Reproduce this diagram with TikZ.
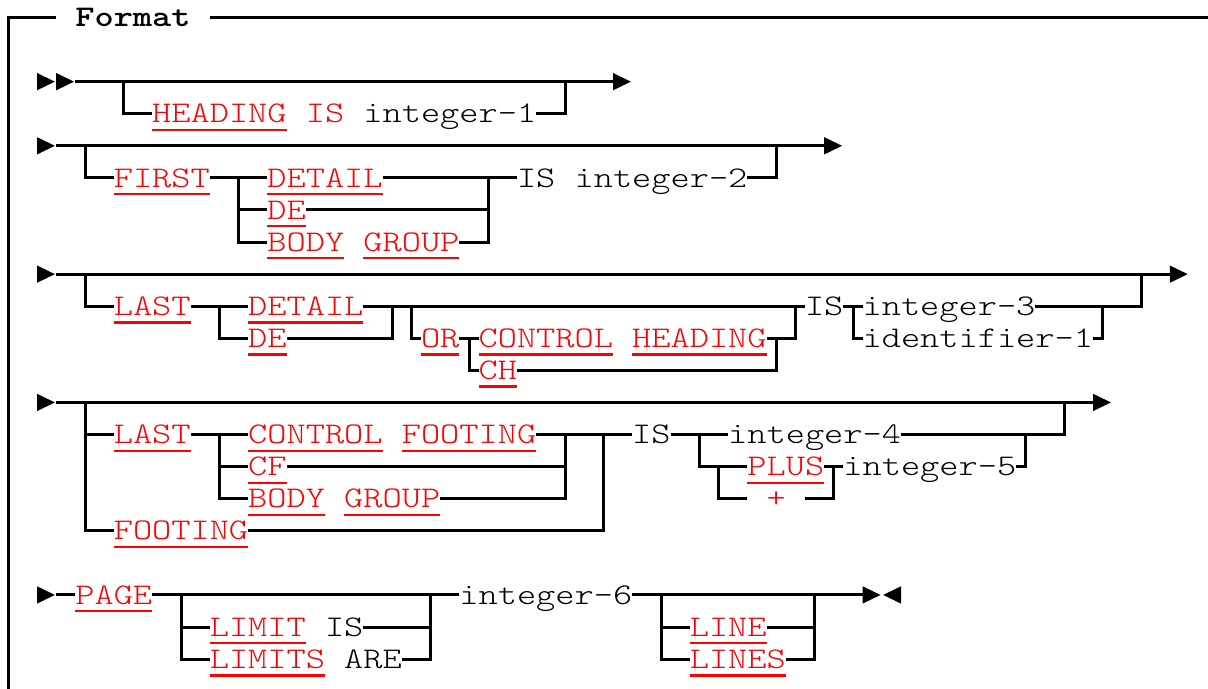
\documentclass[tikz,border=0pt]{standalone}
\usepackage{fontspec}
\newfontfamily\mono{lmmonolt10-regular.otf}[FakeStretch=1.219, BoldFont=lmmonolt10-bold.otf]
\newcommand\ra[2]{\fill (#1,#2) ++(0,-0.27) -- ++(0.93,0.27) -- ++(-0.93,0.27) -- cycle;}
\newcommand\la[2]{\fill ({#1+1},#2) ++(0,-0.27) -- ++(-0.93,0.27) -- ++(0.93,0.27) -- cycle;}
\newcommand\KW[4]{\node[kw] (#1) at (#2,#3) {#4};
  \draw[ul] ([yshift=-3.5pt]#1.base west) -- ([yshift=-3.5pt]#1.base east);}
\begin{document}
\begin{tikzpicture}[x=9.6pt,y=-16.04pt,
  every path/.style={line width=1.5pt, line join=miter},
  tx/.style={anchor=base west, inner sep=0pt, outer sep=0pt, yshift=-4.6pt,
    font={\mono\fontsize{15pt}{15pt}\selectfont}},
  kw/.style={tx, text=red},
  ul/.style={draw=red, line width=1.2pt},
  hdr/.style={tx, font={\mono\bfseries\fontsize{15pt}{15pt}\selectfont}}]
\path[use as bounding box] (0.7pt,8.75pt) rectangle (604.7pt,-335.75pt);
% frame
\draw (0.5,21) -- (0.5,0) -- (3,0);
\node[hdr] (fmt) at (4,0) {Format};
\draw (11,0) -- (63.2,0);
% row 2
\ra{2}{2} \ra{3}{2}
\draw (4,2) -- (32,2); \ra{32}{2}
\draw (6.5,2) |- (8,3);
\KW{hd}{8}{3}{HEADING}
\node[kw] (his) at (16,3) {IS};
\node[tx] (i1) at (19,3) {integer-1};
\draw (28,3) -| (29.5,2);
% row 4
\ra{2}{4}
\draw (3,4) -- (43,4); \ra{43}{4}
\draw (4.5,4) |- (6,5);
\KW{first}{6}{5}{FIRST}
\draw (11,5) -- (14,5); \draw (12.5,5) |- (14,7); \draw (12.5,6) -- (14,6);
\KW{d1}{14}{5}{DETAIL}
\KW{de1}{14}{6}{DE}
\KW{bo1}{14}{7}{BODY}
\KW{gr1}{19}{7}{GROUP}
\draw (20,5) -- (27,5); \draw (16,6) -- (25.5,6); \draw (24,7) -| (25.5,5);
\node[tx] (is2) at (27,5) {IS integer-2};
\draw (39,5) -| (40.5,4);
% row 8
\ra{2}{8}
\draw (3,8) -- (61,8); \ra{61}{8}
\draw (4.5,8) |- (6,9);
\KW{last1}{6}{9}{LAST}
\draw (10,9) -- (13,9); \draw (11.5,9) |- (13,10);
\KW{d2}{13}{9}{DETAIL}
\KW{de2}{13}{10}{DE}
\draw (19,9) -- (42,9); \draw (15,10) -| (20.5,9);
\draw (21.5,9) |- (22,10);
\KW{or}{22}{10}{OR}
\draw (24,10) -- (25,10); \draw (24.5,10) |- (25,11);
\KW{co1}{25}{10}{CONTROL}
\KW{he2}{33}{10}{HEADING}
\KW{ch}{25}{11}{CH}
\draw (40,10) -| (41.5,9); \draw (27,11) -| (40.5,10);
\node[tx] (is3) at (42,9) {IS};
\draw (44,9) -- (45,9); \draw (44.5,9) |- (45,10);
\node[tx] (i3) at (45,9) {integer-3};
\node[tx] (id1) at (45,10) {identifier-1};
\draw (54,9) -| (59.5,8); \draw (57,10) -| (57.5,9);
% row 12
\ra{2}{12}
\draw (3,12) -- (57,12); \ra{57}{12}
\draw (4.5,12) |- (6,16); \draw (4.5,13) -- (6,13);
\KW{last2}{6}{13}{LAST}
\draw (10,13) -- (13,13); \draw (11.5,13) |- (13,15); \draw (11.5,14) -- (13,14);
\KW{co2}{13}{13}{CONTROL}
\KW{fo1}{21}{13}{FOOTING}
\KW{cf}{13}{14}{CF}
\KW{bo2}{13}{15}{BODY}
\KW{gr2}{18}{15}{GROUP}
\KW{fo2}{6}{16}{FOOTING}
\draw (28,13) -- (33,13); \draw (15,14) -- (29.5,14); \draw (23,15) -| (29.5,13);
\draw (13,16) -| (31.5,13);
\node[tx] (is4) at (33,13) {IS};
\draw (35,13) -- (38,13); \draw (36.5,13) |- (39,14);
\node[tx] (i4) at (38,13) {integer-4};
\draw (47,13) -| (55.5,12);
\KW{plus}{39}{14}{PLUS}
\draw (37.5,14) |- (39,15);
\node[kw] (pl) at (40,15) {+};
\draw (42,15) -| (43.5,14); \draw (43,14) -- (44,14);
\node[tx] (i5) at (44,14) {integer-5};
\draw (53,14) -| (53.5,13);
% row 18
\ra{2}{18}
\draw (3,18) -- (4,18);
\KW{page}{4}{18}{PAGE}
\draw (8,18) -- (24,18);
\node[tx] (i6) at (24,18) {integer-6};
\draw (9.5,18) |- (11,20); \draw (9.5,19) -- (11,19);
\KW{lim}{11}{19}{LIMIT}
\node[tx] (is5) at (17,19) {IS};
\KW{lims}{11}{20}{LIMITS}
\node[tx] (are) at (18,20) {ARE};
\draw (19,19) -- (22.5,19); \draw (21,20) -| (22.5,18);
\draw (33,18) -- (45,18); \ra{45}{18} \la{46}{18}
\draw (34.5,18) |- (36,20); \draw (34.5,19) -- (36,19);
\KW{line}{36}{19}{LINE}
\KW{lines}{36}{20}{LINES}
\draw (40,19) -- (42.5,19); \draw (41,20) -| (42.5,18);
\end{tikzpicture}
\end{document}
